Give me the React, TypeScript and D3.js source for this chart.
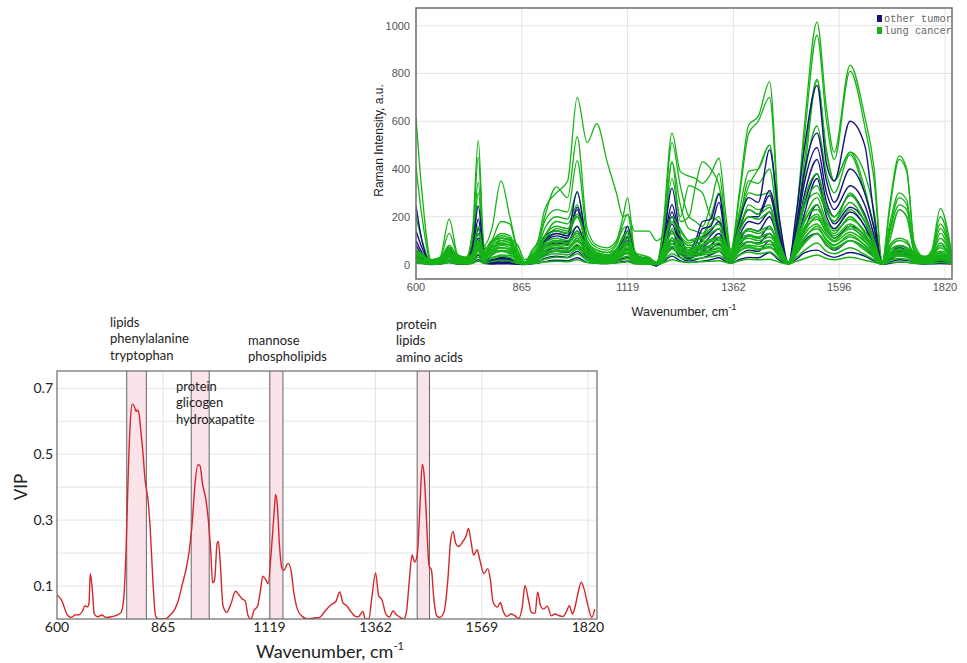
import React from 'react';
import * as d3 from 'd3';

// ---------- Top chart data (Raman spectra) ----------
const ramanTicks = [600, 865, 1119, 1362, 1596, 1820];
const ramanYTicks = [0, 200, 400, 600, 800, 1000];
const ramanWave = [
  600, 615, 638, 660, 683, 705, 725, 742, 756, 770,
  790, 813, 835, 855, 872, 890, 904, 920, 948, 975,
  998, 1022, 1045, 1070, 1092, 1108, 1119, 1135, 1150, 1168,
  1185, 1200, 1221, 1240, 1260, 1275, 1291, 1310, 1329, 1345,
  1356, 1375, 1396, 1417, 1442, 1463, 1484, 1500, 1520, 1547,
  1568, 1585, 1619, 1650, 1670, 1687, 1703, 1723, 1739, 1755,
  1776, 1792, 1810, 1834,
];
const legendLabels = ['other tumor', 'lung cancer'];

const lungCancerA = [
  615, 300, 20, 30, 190, 40, 30, 150, 520, 80,
  60, 100, 90, 30, 5, 60, 90, 200, 325, 280,
  535, 150, 80, 70, 100, 200, 280, 60, 30, 30,
  0, 150, 550, 390, 370, 360, 340, 380, 445, 200,
  60, 300, 585, 620, 765, 200, 5, 180, 600, 1015,
  650, 470, 835, 620, 400, 10, 250, 455, 400, 90,
  30, 60, 235, 50,
];
const lungCancerB = [
  40, 30, 10, 20, 60, 30, 25, 60, 150, 50,
  60, 110, 100, 40, 10, 60, 100, 230, 300, 350,
  700, 510, 590, 430, 300, 200, 210, 140, 140, 140,
  100, 120, 430, 180, 200, 330, 430, 400, 330, 150,
  60, 200, 330, 400, 500, 150, 5, 120, 400, 770,
  460, 350, 470, 320, 150, 5, 100, 230, 200, 60,
  20, 50, 170, 40,
];
const lungCancerC = [
  410, 200, 15, 25, 130, 35, 25, 120, 450, 70,
  50, 90, 80, 25, 5, 50, 80, 180, 230, 220,
  435, 120, 70, 60, 90, 170, 210, 50, 25, 25,
  0, 130, 510, 330, 200, 180, 160, 250, 380, 150,
  50, 280, 550, 600, 700, 180, 5, 170, 550, 960,
  600, 440, 810, 580, 350, 10, 230, 440, 390, 80,
  25, 50, 200, 45,
];
const lungCancerD = [
  200, 100, 10, 20, 80, 30, 20, 100, 345, 60,
  40, 80, 70, 20, 5, 40, 70, 150, 200, 190,
  300, 100, 60, 50, 80, 150, 160, 40, 20, 20,
  0, 100, 430, 250, 150, 140, 130, 200, 300, 120,
  40, 220, 390, 400, 500, 150, 5, 140, 450, 775,
  480, 350, 470, 380, 220, 8, 170, 300, 270, 60,
  20, 40, 150, 40,
];
const lungCancerE = [
  60, 40, 10, 15, 60, 25, 20, 60, 300, 80,
  150, 350, 200, 60, 5, 40, 60, 120, 180, 170,
  250, 90, 50, 40, 60, 120, 130, 35, 20, 15,
  0, 80, 360, 200, 330, 320, 300, 200, 180, 100,
  40, 180, 350, 340, 400, 120, 5, 120, 380, 580,
  380, 300, 460, 300, 160, 5, 150, 280, 250, 60,
  20, 40, 130, 30,
];
const lungCancerF = [
  30, 25, 5, 15, 50, 20, 15, 40, 100, 40,
  100, 180, 170, 40, 5, 30, 50, 100, 150, 140,
  200, 80, 40, 30, 50, 90, 110, 30, 15, 10,
  0, 60, 200, 150, 100, 100, 120, 170, 200, 80,
  40, 170, 300, 290, 300, 100, 5, 100, 250, 300,
  220, 180, 300, 200, 100, 5, 140, 250, 230, 60,
  20, 40, 110, 30,
];
const lungCancerG = [
  25, 20, 5, 12, 45, 18, 12, 35, 90, 35,
  90, 110, 100, 30, 5, 25, 45, 90, 130, 120,
  160, 70, 35, 25, 45, 80, 90, 25, 12, 8,
  0, 50, 150, 110, 80, 85, 100, 130, 150, 70,
  30, 140, 250, 230, 250, 90, 5, 90, 200, 280,
  180, 150, 230, 160, 80, 5, 120, 230, 200, 50,
  18, 35, 90, 25,
];
const lungCancerL1 = [
  40, 30, 5, 10, 50, 15, 10, 30, 100, 30,
  80, 100, 90, 25, 3, 20, 40, 80, 100, 90,
  140, 60, 30, 20, 40, 60, 80, 20, 10, 5,
  0, 40, 140, 90, 60, 70, 80, 100, 110, 60,
  30, 110, 150, 140, 160, 70, 5, 80, 180, 250,
  160, 130, 200, 130, 60, 5, 60, 80, 70, 30,
  15, 25, 50, 20,
];
const lungCancerL2 = [
  30, 20, 5, 8, 40, 12, 8, 25, 80, 25,
  70, 90, 80, 20, 3, 15, 30, 60, 80, 70,
  110, 45, 25, 15, 30, 50, 60, 15, 8, 5,
  0, 30, 110, 70, 50, 55, 65, 80, 90, 50,
  25, 90, 120, 110, 130, 55, 5, 60, 140, 200,
  130, 100, 160, 100, 50, 5, 45, 60, 55, 25,
  12, 20, 40, 15,
];
const lungCancerL3 = [
  20, 15, 3, 6, 30, 10, 6, 20, 60, 20,
  55, 70, 60, 15, 2, 12, 25, 45, 60, 55,
  85, 35, 20, 12, 25, 40, 45, 12, 6, 3,
  0, 25, 85, 55, 40, 45, 50, 60, 70, 40,
  20, 70, 95, 85, 100, 45, 5, 50, 110, 160,
  100, 80, 125, 80, 40, 4, 35, 45, 40, 20,
  10, 15, 30, 12,
];
const lungCancerL4 = [
  15, 10, 2, 5, 22, 8, 5, 15, 45, 15,
  40, 55, 45, 12, 2, 10, 20, 35, 45, 40,
  65, 25, 15, 10, 20, 30, 35, 10, 5, 2,
  0, 20, 65, 40, 30, 35, 40, 45, 55, 30,
  15, 55, 75, 65, 75, 35, 4, 40, 90, 130,
  80, 65, 100, 60, 30, 3, 25, 35, 30, 15,
  8, 12, 25, 10,
];
const lungCancerL5 = [
  10, 8, 2, 4, 15, 5, 4, 10, 30, 10,
  25, 35, 30, 8, 1, 7, 12, 22, 30, 28,
  45, 18, 10, 7, 14, 20, 25, 7, 4, 2,
  0, 14, 45, 28, 20, 24, 28, 32, 38, 20,
  10, 38, 52, 45, 52, 25, 3, 28, 60, 90,
  55, 45, 70, 42, 20, 2, 18, 25, 22, 10,
  5, 8, 18, 6,
];
const lungCancerL6 = [
  5, 4, 1, 2, 8, 3, 2, 5, 15, 5,
  12, 18, 15, 4, 1, 4, 6, 10, 14, 12,
  20, 8, 5, 4, 6, 9, 11, 3, 2, 1,
  0, 7, 20, 12, 9, 10, 12, 14, 16, 9,
  5, 16, 22, 20, 22, 10, 2, 12, 25, 40,
  25, 20, 30, 18, 9, 1, 8, 10, 9, 5,
  3, 4, 8, 3,
];
const lungCancerL7 = [
  50, 35, 8, 15, 70, 20, 15, 40, 130, 40,
  90, 120, 110, 30, 5, 30, 55, 110, 140, 130,
  200, 80, 40, 30, 55, 90, 120, 30, 15, 8,
  0, 55, 180, 120, 90, 100, 110, 130, 150, 80,
  40, 140, 200, 190, 220, 90, 5, 100, 250, 330,
  220, 180, 260, 180, 90, 5, 80, 110, 100, 40,
  20, 35, 70, 25,
];
const lungCancerL8 = [
  35, 30, 20, 30, 60, 40, 30, 45, 90, 60,
  100, 110, 105, 80, 20, 40, 60, 90, 110, 100,
  130, 80, 60, 50, 60, 80, 95, 50, 40, 30,
  10, 60, 130, 100, 80, 85, 95, 105, 115, 80,
  50, 120, 140, 130, 150, 90, 10, 90, 190, 230,
  170, 140, 190, 140, 80, 10, 60, 75, 70, 50,
  35, 40, 55, 40,
];
const lungCancerL9 = [
  25, 20, 10, 20, 45, 25, 20, 35, 70, 40,
  75, 85, 80, 55, 10, 30, 45, 70, 85, 80,
  100, 60, 45, 35, 45, 60, 70, 35, 25, 18,
  5, 45, 100, 75, 60, 65, 70, 80, 90, 60,
  35, 90, 110, 100, 115, 70, 8, 70, 150, 190,
  140, 110, 150, 110, 60, 8, 45, 60, 55, 35,
  25, 30, 40, 30,
];
const lungCancerL10 = [
  55, 40, 15, 25, 55, 35, 25, 40, 85, 50,
  60, 70, 65, 40, 10, 35, 50, 75, 95, 90,
  120, 70, 50, 40, 50, 70, 85, 40, 30, 20,
  5, 50, 110, 85, 70, 75, 85, 95, 100, 70,
  45, 100, 125, 115, 130, 75, 8, 80, 160, 210,
  150, 120, 170, 120, 70, 8, 50, 65, 60, 40,
  28, 35, 45, 35,
];
const lungCancerL11 = [
  15, 12, 6, 12, 30, 15, 12, 25, 55, 28,
  50, 60, 55, 35, 6, 20, 32, 50, 62, 58,
  75, 45, 32, 25, 32, 45, 52, 25, 18, 12,
  3, 32, 75, 55, 45, 48, 52, 60, 66, 45,
  25, 66, 82, 75, 85, 52, 6, 52, 115, 150,
  105, 82, 115, 82, 45, 6, 32, 45, 40, 25,
  18, 22, 30, 20,
];
const lungCancerL12 = [
  45, 35, 12, 18, 40, 28, 20, 30, 65, 35,
  45, 55, 50, 30, 8, 25, 38, 58, 72, 68,
  95, 55, 38, 30, 38, 52, 62, 30, 22, 15,
  4, 38, 88, 65, 52, 58, 62, 72, 80, 52,
  32, 78, 95, 88, 100, 60, 7, 62, 130, 170,
  120, 95, 135, 95, 52, 7, 38, 52, 48, 30,
  22, 26, 35, 26,
];
const lungCancerL13 = [
  60, 45, 12, 20, 80, 30, 20, 50, 160, 45,
  95, 130, 120, 35, 6, 35, 65, 120, 160, 150,
  210, 90, 50, 40, 65, 110, 140, 35, 20, 10,
  0, 70, 200, 140, 100, 110, 120, 150, 170, 90,
  45, 160, 230, 210, 240, 100, 6, 110, 280, 380,
  240, 200, 290, 200, 100, 6, 70, 100, 90, 40,
  20, 35, 80, 30,
];
const lungCancerL14 = [
  20, 15, 8, 12, 35, 18, 15, 28, 60, 30,
  30, 40, 38, 25, 5, 18, 28, 45, 55, 52,
  70, 40, 28, 22, 28, 40, 48, 22, 15, 10,
  2, 28, 65, 48, 38, 42, 46, 52, 58, 38,
  22, 55, 70, 62, 70, 45, 5, 45, 95, 130,
  90, 70, 100, 70, 38, 5, 28, 38, 34, 22,
  15, 18, 25, 15,
];

const otherTumor1 = [
  245, 100, 5, 15, 70, 20, 15, 80, 245, 50,
  20, 30, 25, 10, 3, 30, 60, 120, 140, 130,
  305, 80, 40, 35, 60, 110, 160, 40, 30, 20,
  -5, 80, 320, 120, 60, 100, 180, 190, 295, 100,
  40, 180, 280, 260, 480, 200, 5, 200, 500, 750,
  420, 350, 600, 500, 200, 5, 40, 80, 70, 40,
  15, 20, 30, 15,
];
const otherTumor2 = [
  140, 70, 5, 12, 60, 15, 12, 60, 190, 40,
  15, 25, 20, 8, 3, 25, 50, 100, 130, 120,
  240, 70, 35, 30, 55, 100, 140, 35, 25, 15,
  -5, 70, 250, 100, 50, 80, 150, 160, 260, 90,
  35, 150, 230, 210, 310, 140, 5, 150, 400, 550,
  350, 260, 400, 300, 150, 5, 35, 70, 60, 35,
  12, 18, 25, 12,
];
const otherTumor3 = [
  100, 50, 5, 10, 55, 12, 10, 50, 150, 35,
  12, 20, 15, 6, 2, 20, 40, 90, 120, 110,
  230, 60, 30, 25, 50, 90, 115, 30, 20, 12,
  -5, 60, 220, 90, 45, 60, 110, 140, 180, 80,
  30, 140, 200, 200, 290, 120, 5, 130, 350, 490,
  300, 230, 330, 250, 120, 4, 30, 60, 55, 30,
  10, 15, 22, 10,
];
const otherTumor4 = [
  80, 40, 4, 8, 50, 10, 8, 45, 130, 30,
  10, 18, 14, 5, 2, 18, 35, 80, 100, 95,
  160, 50, 25, 22, 45, 80, 100, 25, 18, 10,
  -5, 50, 200, 80, 40, 55, 80, 120, 150, 70,
  28, 120, 180, 170, 220, 100, 4, 110, 300, 440,
  260, 200, 290, 210, 100, 4, 28, 55, 50, 28,
  10, 14, 20, 10,
];
const otherTumor5 = [
  60, 30, 3, 6, 40, 8, 6, 35, 110, 25,
  8, 15, 12, 4, 2, 15, 30, 70, 90, 85,
  140, 45, 22, 20, 40, 70, 85, 20, 15, 8,
  -3, 45, 170, 70, 35, 50, 70, 100, 130, 60,
  25, 100, 150, 140, 200, 90, 4, 100, 260, 380,
  230, 170, 240, 180, 80, 3, 25, 50, 45, 25,
  8, 12, 18, 8,
];
const otherTumor6 = [
  40, 20, 2, 4, 30, 6, 4, 25, 80, 18,
  6, 10, 8, 3, 1, 10, 20, 50, 70, 65,
  110, 35, 18, 15, 30, 50, 65, 15, 10, 6,
  -3, 35, 140, 55, 28, 40, 55, 80, 110, 50,
  20, 80, 120, 110, 160, 70, 3, 80, 220, 360,
  200, 150, 220, 160, 70, 3, 20, 45, 40, 20,
  6, 10, 14, 6,
];
const otherTumor7 = [
  20, 10, 1, 3, 15, 4, 3, 12, 40, 10,
  4, 6, 5, 2, 1, 6, 12, 25, 35, 30,
  55, 18, 10, 8, 15, 25, 30, 8, 5, 3,
  -2, 18, 70, 30, 15, 20, 28, 40, 55, 25,
  10, 40, 60, 55, 100, 35, 2, 40, 100, 130,
  80, 60, 100, 70, 30, 2, 10, 20, 18, 10,
  4, 6, 8, 4,
];
const otherTumor8 = [
  10, 5, 0, 2, 8, 2, 2, 6, 20, 5,
  2, 3, 3, 1, 0, 3, 6, 12, 18, 15,
  28, 9, 5, 4, 8, 12, 15, 4, 3, 2,
  -5, 9, 35, 15, 8, 10, 14, 20, 28, 12,
  5, 20, 30, 28, 50, 18, 5, 20, 50, 60,
  40, 30, 50, 35, 15, 1, 5, 10, 9, 5,
  2, 3, 4, 2,
];
const otherTumor9 = [
  30, 20, 5, 10, 30, 10, 8, 25, 60, 20,
  15, 20, 18, 10, 3, 12, 20, 40, 55, 50,
  80, 30, 18, 15, 25, 40, 50, 15, 10, 6,
  -3, 30, 100, 45, 25, 35, 45, 65, 85, 40,
  18, 65, 95, 90, 130, 60, 3, 60, 150, 250,
  150, 110, 160, 120, 55, 3, 18, 40, 35, 18,
  6, 10, 14, 6,
];

// ---------- Bottom chart data (VIP) ----------
const vipTicks = [600, 865, 1119, 1362, 1569, 1820];
const vipYTicks = [0.1, 0.3, 0.5, 0.7];
const vipGridValues = [0.1, 0.2, 0.3, 0.4, 0.5, 0.6, 0.7];
const vipWave = [
  600, 611, 626, 635, 645, 655, 664, 670, 676, 680, 683, 688, 693, 702, 712, 722, 736, 750, 760, 767,
  772, 778, 783, 788, 793, 797, 801, 805, 810, 814, 820, 827, 833, 839, 846, 853, 865, 874, 884, 893,
  902, 911, 920, 927, 934, 941, 948, 953, 959, 967, 973, 979, 983, 988, 994, 997, 1001, 1008, 1017, 1027,
  1038, 1045, 1054, 1061, 1068, 1075, 1082, 1091, 1098, 1103, 1110, 1116, 1123, 1130, 1133, 1137, 1142, 1148, 1153, 1159,
  1163, 1169, 1175, 1183, 1194, 1207, 1221, 1234, 1247, 1260, 1271, 1280, 1287, 1296, 1305, 1313, 1322, 1333, 1338, 1347,
  1353, 1362, 1368, 1374, 1382, 1389, 1396, 1401, 1409, 1417, 1422, 1428, 1433, 1438, 1443, 1448, 1453, 1457, 1462, 1466,
  1471, 1475, 1481, 1487, 1495, 1503, 1508, 1513, 1518, 1524, 1532, 1538, 1543, 1548, 1553, 1560, 1565, 1574, 1583, 1589,
  1596, 1606, 1613, 1619, 1628, 1638, 1647, 1656, 1665, 1671, 1679, 1686, 1695, 1701, 1708, 1715, 1724, 1733, 1742, 1752,
  1761, 1770, 1776, 1783, 1788, 1797, 1804, 1811, 1820, 1829, 1836,
];
const vipValue = [
  0.073, 0.058, 0.012, 0.005, 0.012, 0.013, 0.025, 0.04, 0.037, 0.05, 0.138, 0.09, 0.015, 0.007, 0.012, 0.005, 0.007, 0.012, 0.02, 0.07,
  0.2, 0.45, 0.6, 0.652, 0.645, 0.63, 0.634, 0.62, 0.56, 0.511, 0.42, 0.363, 0.266, 0.122, 0.01, 0.0, 0.0, 0.003, 0.015, 0.03,
  0.06, 0.107, 0.153, 0.204, 0.286, 0.408, 0.468, 0.465, 0.41, 0.363, 0.3, 0.2, 0.11, 0.12, 0.23, 0.235, 0.18, 0.04, 0.02, 0.046,
  0.084, 0.075, 0.061, 0.055, 0.01, 0.0, 0.025, 0.04, 0.09, 0.13, 0.12, 0.107, 0.2, 0.327, 0.378, 0.347, 0.225, 0.153, 0.148, 0.165,
  0.168, 0.143, 0.08, 0.03, 0.008, 0.0, 0.003, 0.005, 0.025, 0.043, 0.053, 0.082, 0.05, 0.04, 0.023, 0.01, 0.006, 0.023, 0.0, 0.002,
  0.061, 0.14, 0.07, 0.06, 0.015, 0.006, 0.025, 0.015, 0.006, 0.0, 0.02, 0.122, 0.194, 0.173, 0.194, 0.327, 0.47, 0.43, 0.275, 0.163,
  0.148, 0.07, 0.01, 0.005, 0.02, 0.122, 0.235, 0.266, 0.23, 0.22, 0.235, 0.25, 0.275, 0.235, 0.194, 0.21, 0.18, 0.138, 0.153, 0.122,
  0.05, 0.036, 0.05, 0.025, 0.008, 0.015, 0.01, 0.002, 0.04, 0.102, 0.06, 0.02, 0.017, 0.082, 0.04, 0.03, 0.039, 0.01, 0.015, 0.01,
  0.008, 0.025, 0.04, 0.015, 0.03, 0.082, 0.112, 0.09, 0.04, 0.005, 0.03,
];
const bandStart = [774, 932, 1120, 1443];
const bandEnd = [823, 975, 1150, 1467];
const bandLabels = [
  ['lipids', 'phenylalanine', 'tryptophan'],
  ['protein', 'glicogen', 'hydroxapatite'],
  ['mannose', 'phospholipids'],
  ['protein', 'lipids', 'amino acids'],
];

// ---------- Layout ----------
const W = 967;
const H = 663;
const TOP = { left: 416, right: 952, top: 8, bottom: 279, x0: 416, x1: 945, y0: 264.5, y1000: 25.7 };
const BOT = { left: 57, right: 597, top: 371, bottom: 619, x0: 57, x1: 588, y0: 619, y07: 388.3 };
const labelPos = [
  { x: 110, y: 322 },
  { x: 176, y: 386 },
  { x: 248, y: 340 },
  { x: 396, y: 324 },
];

const GREEN = '#16b316';
const NAVY = '#13137a';

export default function App() {
  const topPos = ramanTicks.map((_, i) => TOP.x0 + (i * (TOP.x1 - TOP.x0)) / (ramanTicks.length - 1));
  const xTop = d3.scaleLinear().domain(ramanTicks).range(topPos);
  const yTop = d3.scaleLinear().domain([0, 1000]).range([TOP.y0, TOP.y1000]);

  const botPos = vipTicks.map((_, i) => BOT.x0 + (i * (BOT.x1 - BOT.x0)) / (vipTicks.length - 1));
  const xBot = d3.scaleLinear().domain(vipTicks).range(botPos);
  const yBot = d3.scaleLinear().domain([0, 0.7]).range([BOT.y0, BOT.y07]);

  const spectrumLine = d3
    .line<number>()
    .x((_, i) => xTop(ramanWave[i]))
    .y((d) => yTop(d))
    .curve(d3.curveMonotoneX);

  const vipLine = d3
    .line<number>()
    .x((_, i) => xBot(vipWave[i]))
    .y((d) => yBot(d))
    .curve(d3.curveMonotoneX);

  const greenHigh = [lungCancerG, lungCancerF, lungCancerE, lungCancerD, lungCancerB, lungCancerC, lungCancerA];
  const navyAll = [
    otherTumor8, otherTumor9, otherTumor7, otherTumor6, otherTumor5,
    otherTumor4, otherTumor3, otherTumor2, otherTumor1,
  ];
  const greenLow = [
    lungCancerL13, lungCancerL7, lungCancerL1, lungCancerL8, lungCancerL10, lungCancerL2,
    lungCancerL9, lungCancerL12, lungCancerL3, lungCancerL11, lungCancerL14, lungCancerL4,
    lungCancerL5, lungCancerL6,
  ];

  const topFont = '"Liberation Sans", Arial, sans-serif';
  const botFont = 'Lato, "Open Sans", sans-serif';
  const monoFont = '"Liberation Mono", "DejaVu Sans Mono", monospace';

  return (
    <svg
      width={W}
      height={H}
      viewBox={`0 0 ${W} ${H}`}
      style={{ position: 'absolute', left: 0, top: 0, background: '#fff' }}
    >
      <defs>
        <clipPath id="topClip">
          <rect x={TOP.left} y={TOP.top} width={TOP.right - TOP.left} height={TOP.bottom - TOP.top} />
        </clipPath>
        <clipPath id="botClip">
          <rect x={BOT.left} y={BOT.top - 2} width={BOT.right - BOT.left} height={BOT.bottom - BOT.top + 2} />
        </clipPath>
      </defs>

      {/* ===== Top chart ===== */}
      <g>
        {ramanYTicks.map((t) => (
          <line key={'tgy' + t} x1={TOP.left} x2={TOP.right} y1={yTop(t)} y2={yTop(t)} stroke="#e3e3e3" strokeWidth={1} />
        ))}
        {ramanTicks.map((t) => (
          <line key={'tgx' + t} x1={xTop(t)} x2={xTop(t)} y1={TOP.top} y2={TOP.bottom} stroke="#e3e3e3" strokeWidth={1} />
        ))}
        <g clipPath="url(#topClip)" fill="none" strokeLinejoin="round">
          {greenHigh.map((s, i) => (
            <path key={'gh' + i} d={spectrumLine(s) || ''} stroke={GREEN} strokeWidth={1.3} />
          ))}
          {navyAll.map((s, i) => (
            <path key={'nv' + i} d={spectrumLine(s) || ''} stroke={NAVY} strokeWidth={1.4} />
          ))}
          {greenLow.map((s, i) => (
            <path key={'gl' + i} d={spectrumLine(s) || ''} stroke={GREEN} strokeWidth={1.5} />
          ))}
        </g>
        <rect
          x={TOP.left}
          y={TOP.top}
          width={TOP.right - TOP.left}
          height={TOP.bottom - TOP.top}
          fill="none"
          stroke="#6e6e6e"
          strokeWidth={1.5}
        />
        {ramanYTicks.map((t) => (
          <text key={'tyl' + t} x={TOP.left - 6} y={yTop(t) + 4} textAnchor="end" fontFamily={topFont} fontSize={11} fill="#555">
            {t}
          </text>
        ))}
        {ramanTicks.map((t) => (
          <text key={'txl' + t} x={xTop(t)} y={291} textAnchor="middle" fontFamily={topFont} fontSize={11} fill="#555">
            {t}
          </text>
        ))}
        <text
          transform={`translate(383,${(TOP.top + TOP.bottom) / 2 - 3}) rotate(-90)`}
          textAnchor="middle"
          fontFamily={topFont}
          fontSize={12}
          fill="#222"
        >
          Raman Intensity, a.u.
        </text>
        <text x={684} y={316} textAnchor="middle" fontFamily={topFont} fontSize={12.5} fill="#222">
          Wavenumber, cm
          <tspan dy={-6} fontSize={9}>-1</tspan>
        </text>
        {/* legend */}
        <rect x={877} y={15} width={5} height={7} fill={NAVY} />
        <text x={884} y={22} fontFamily={monoFont} fontSize={10.3} fill="#666">
          {legendLabels[0]}
        </text>
        <rect x={877} y={27} width={5} height={7} fill={GREEN} />
        <text x={884} y={34} fontFamily={monoFont} fontSize={10.3} fill="#666">
          {legendLabels[1]}
        </text>
      </g>

      {/* ===== Bottom chart ===== */}
      <g>
        {vipGridValues.map((v) => (
          <line key={'bgy' + v} x1={BOT.left} x2={BOT.right} y1={yBot(v)} y2={yBot(v)} stroke="#e4e4e4" strokeWidth={1} />
        ))}
        {vipTicks.slice(1).map((t) => (
          <line key={'bgx' + t} x1={xBot(t)} x2={xBot(t)} y1={BOT.top} y2={BOT.bottom} stroke="#e4e4e4" strokeWidth={1} />
        ))}
        {bandStart.map((b, i) => (
          <g key={'band' + i}>
            <rect x={xBot(b)} y={BOT.top} width={xBot(bandEnd[i]) - xBot(b)} height={BOT.bottom - BOT.top} fill="#fbe3ea" />
            <line x1={xBot(b)} x2={xBot(b)} y1={BOT.top} y2={BOT.bottom} stroke="#666" strokeWidth={1} />
            <line x1={xBot(bandEnd[i])} x2={xBot(bandEnd[i])} y1={BOT.top} y2={BOT.bottom} stroke="#666" strokeWidth={1} />
          </g>
        ))}
        <g clipPath="url(#botClip)">
          <path d={vipLine(vipValue) || ''} fill="none" stroke="#d2282b" strokeWidth={1.4} strokeLinejoin="round" />
        </g>
        <rect
          x={BOT.left}
          y={BOT.top}
          width={BOT.right - BOT.left}
          height={BOT.bottom - BOT.top}
          fill="none"
          stroke="#6a6a6a"
          strokeWidth={1.2}
        />
        {vipYTicks.map((v) => (
          <text key={'byl' + v} x={BOT.left - 4} y={yBot(v) + 5} textAnchor="end" fontFamily={botFont} fontSize={14} fill="#222">
            {v.toFixed(1)}
          </text>
        ))}
        {vipTicks.map((t) => (
          <text key={'bxl' + t} x={xBot(t)} y={632} textAnchor="middle" fontFamily={botFont} fontSize={14} fill="#222">
            {t}
          </text>
        ))}
        <text
          transform={`translate(27,487) rotate(-90)`}
          textAnchor="middle"
          fontFamily={botFont}
          fontSize={17}
          fill="#222"
        >
          VIP
        </text>
        <text x={330} y={658} textAnchor="middle" fontFamily={botFont} fontSize={18} fill="#222">
          Wavenumber, cm
          <tspan dy={-8} fontSize={11}>-1</tspan>
        </text>
        {bandLabels.map((lines, i) => (
          <text key={'bl' + i} fontFamily={botFont} fontSize={13} fill="#222">
            {lines.map((ln, j) => (
              <tspan key={j} x={labelPos[i].x} y={labelPos[i].y + 4.5 + j * 16.8}>
                {ln}
              </tspan>
            ))}
          </text>
        ))}
      </g>
    </svg>
  );
}
